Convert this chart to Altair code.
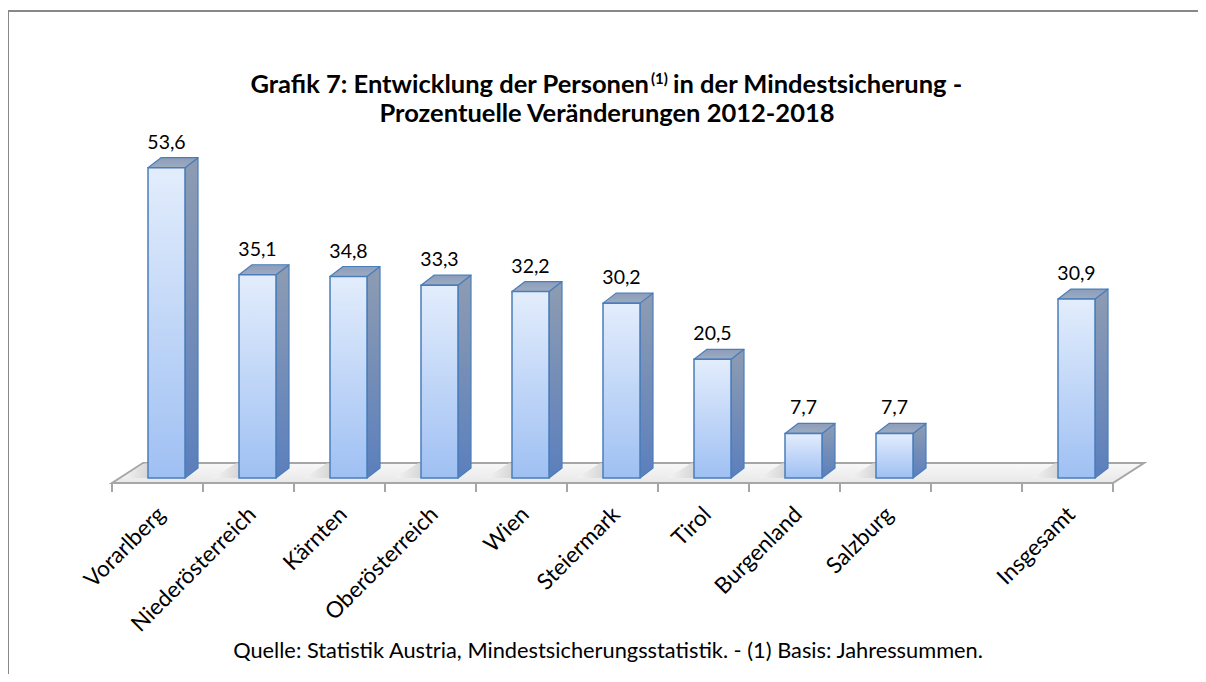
import altair as alt
import pandas as pd

# ---------------- data ----------------
categories = ["Vorarlberg", "Niederösterreich", "Kärnten", "Oberösterreich", "Wien",
              "Steiermark", "Tirol", "Burgenland", "Salzburg", "Insgesamt"]
values = [53.6, 35.1, 34.8, 33.3, 32.2, 30.2, 20.5, 7.7, 7.7, 30.9]
gap_before = "Insgesamt"

title_part1 = "Grafik 7: Entwicklung der Personen"
title_sup = "(1)"
title_part3 = " in der Mindestsicherung -"
title_line2 = "Prozentuelle Veränderungen 2012-2018"
footer = "Quelle: Statistik Austria, Mindestsicherungsstatistik. - (1) Basis: Jahressummen."

# ---------------- layout ----------------
W, H = 1190, 666
SLOT_PX = 91.0          # px per category slot
K = 5.79                # px per percentage point
X0 = 104.0              # view x of first slot boundary
Y0 = 470.0              # view y of value 0
FONT = "Lato"

xdom = [-X0 / SLOT_PX, (W - X0) / SLOT_PX]
ydom = [-(H - Y0) / K, Y0 / K]
sx = alt.Scale(domain=xdom, nice=False, zero=False)
sy = alt.Scale(domain=ydom, nice=False, zero=False)

FL, FR = 36 / SLOT_PX, 73 / SLOT_PX      # front face left/right within slot
DX, DY = 13 / SLOT_PX, 10 / K            # bar depth
FDX, FDY = 31 / SLOT_PX, 20 / K          # floor depth
FLOOR_FRONT = -5 / K

slots = []
s = 0
for c in categories:
    if c == gap_before:
        s += 1
    slots.append(s)
    s += 1
n_slots = s

bars = pd.DataFrame({"cat": categories, "v": values, "slot": slots})
bars["xl"] = bars.slot + FL
bars["xr"] = bars.slot + FR
bars["xc"] = bars.slot + (FL + FR) / 2
bars["base"] = 0.0
bars["vt"] = bars.v + DY
bars["lab"] = bars.v.map(lambda v: f"{v:.1f}".replace(".", ","))
bars["xlab"] = bars.slot + 0.5 + 4 / SLOT_PX
bars["ylab"] = -33 / K

side = pd.concat([
    pd.DataFrame({"cat": categories, "x": bars.xr, "lo": 0.0, "hi": bars.v}),
    pd.DataFrame({"cat": categories, "x": bars.xr + DX, "lo": DY, "hi": bars.v + DY}),
])
top = pd.concat([
    pd.DataFrame({"cat": categories, "y": bars.v, "a": bars.xl, "b": bars.xr}),
    pd.DataFrame({"cat": categories, "y": bars.v + DY, "a": bars.xl + DX, "b": bars.xr + DX}),
])
# soft shadows cast on the floor, left of every bar
SH = 26 / SLOT_PX
shadow = pd.concat([
    pd.DataFrame({"cat": categories, "y": 0.0, "a": bars.xl - SH, "b": bars.xl}),
    pd.DataFrame({"cat": categories, "y": FLOOR_FRONT + FDY, "a": bars.xl - SH + FDX * 0.75,
                  "b": bars.xl + DX}),
])
floor = pd.DataFrame({
    "y": [FLOOR_FRONT, FLOOR_FRONT + FDY],
    "a": [0.0, FDX],
    "b": [float(n_slots), n_slots + FDX],
})
ticks = pd.DataFrame({"x": list(range(n_slots + 1))})
ticks["y1"] = FLOOR_FRONT
ticks["y2"] = FLOOR_FRONT - 9 / K


def grad(c0, c1, horizontal=False):
    return alt.Gradient(gradient="linear",
                        stops=[alt.GradientStop(color=c0, offset=0),
                               alt.GradientStop(color=c1, offset=1)],
                        x1=0, x2=1 if horizontal else 0, y1=0, y2=0 if horizontal else 1)


STROKE = "#4a7ebb"

floor_layer = alt.Chart(floor).mark_area(
    orient="horizontal", fill=grad("#f8f8f8", "#e8e8e8"), stroke="#a6a6a6", strokeWidth=2
).encode(y=alt.Y("y:Q", scale=sy, axis=None),
         x=alt.X("a:Q", scale=sx, axis=None), x2="b:Q")

shadow_layer = alt.Chart(shadow).mark_area(
    orient="horizontal", fill=grad("#f6f6f6", "#bdbdbd", horizontal=True), opacity=0.8
).encode(y=alt.Y("y:Q", scale=sy, axis=None),
         x=alt.X("a:Q", scale=sx, axis=None), x2="b:Q", detail="cat:N")

tick_layer = alt.Chart(ticks).mark_rule(color="#a6a6a6", strokeWidth=2).encode(
    x=alt.X("x:Q", scale=sx, axis=None), y=alt.Y("y1:Q", scale=sy, axis=None), y2="y2:Q")

side_layer = alt.Chart(side).mark_area(
    fill=grad("#8e9cb2", "#5b7fbd"), stroke=STROKE, strokeWidth=1.2, strokeJoin="round"
).encode(x=alt.X("x:Q", scale=sx, axis=None),
         y=alt.Y("lo:Q", scale=sy, axis=None), y2="hi:Q", detail="cat:N")

top_layer = alt.Chart(top).mark_area(
    orient="horizontal", fill=grad("#8c9dbb", "#9eabc0"), stroke=STROKE, strokeWidth=1.2,
    strokeJoin="round"
).encode(y=alt.Y("y:Q", scale=sy, axis=None),
         x=alt.X("a:Q", scale=sx, axis=None), x2="b:Q", detail="cat:N")

front_layer = alt.Chart(bars).mark_rect(
    fill=grad("#e3edfc", "#9fc0f3"), stroke=STROKE, strokeWidth=1.5
).encode(x=alt.X("xl:Q", scale=sx, axis=None), x2="xr:Q",
         y=alt.Y("base:Q", scale=sy, axis=None), y2="v:Q")

value_layer = alt.Chart(bars).mark_text(
    font=FONT, fontSize=19.5, color="#000000", baseline="alphabetic", dy=-9
).encode(x=alt.X("xc:Q", scale=sx, axis=None), y=alt.Y("vt:Q", scale=sy, axis=None),
         text="lab:N")

cat_layer = alt.Chart(bars).mark_text(
    font=FONT, fontSize=22.5, color="#000000", angle=315, align="right", baseline="middle"
).encode(x=alt.X("xlab:Q", scale=sx, axis=None), y=alt.Y("ylab:Q", scale=sy, axis=None),
         text="cat:N")

# text annotations (title, footer), positioned in view pixels
tdf = pd.DataFrame({"t": [0]})


def label(text, x, y, size, bold=False, align="center"):
    return alt.Chart(tdf).mark_text(
        text=text, font=FONT, fontSize=size, fontWeight="bold" if bold else "normal",
        color="#000000", align=align, baseline="alphabetic"
    ).encode(x=alt.value(x), y=alt.value(y))


t1 = label(title_part1, 649 - 8, 93 - 8, 25.5, True, "right")
t2 = label(title_sup, 651 - 8, 84 - 8, 15, True, "left")
t3 = label(title_part3, 673 - 8, 93 - 8, 25.5, True, "left")
t4 = label(title_line2, 607 - 8, 122 - 8, 25.5, True, "center")
tf = label(footer, 608 - 8, 658 - 8, 21.8, False, "center")

# outer frame of the figure (continues beyond the visible page to the right and bottom)
frame = alt.Chart(tdf).mark_rect(
    fill="transparent", stroke="#888888", strokeWidth=2
).encode(x=alt.value(0), x2=alt.value(W + 60), y=alt.value(3), y2=alt.value(H + 60))

chart = alt.layer(
    floor_layer, shadow_layer, tick_layer, side_layer, top_layer, front_layer,
    value_layer, cat_layer, t1, t2, t3, t4, tf, frame
).properties(
    width=W, height=H, padding=0, autosize=alt.AutoSizeParams(type="none"),
    background="#ffffff"
).configure_view(strokeWidth=0, stroke="transparent")

chart.save("out.html", embed_options={"renderer": "svg", "actions": False})
